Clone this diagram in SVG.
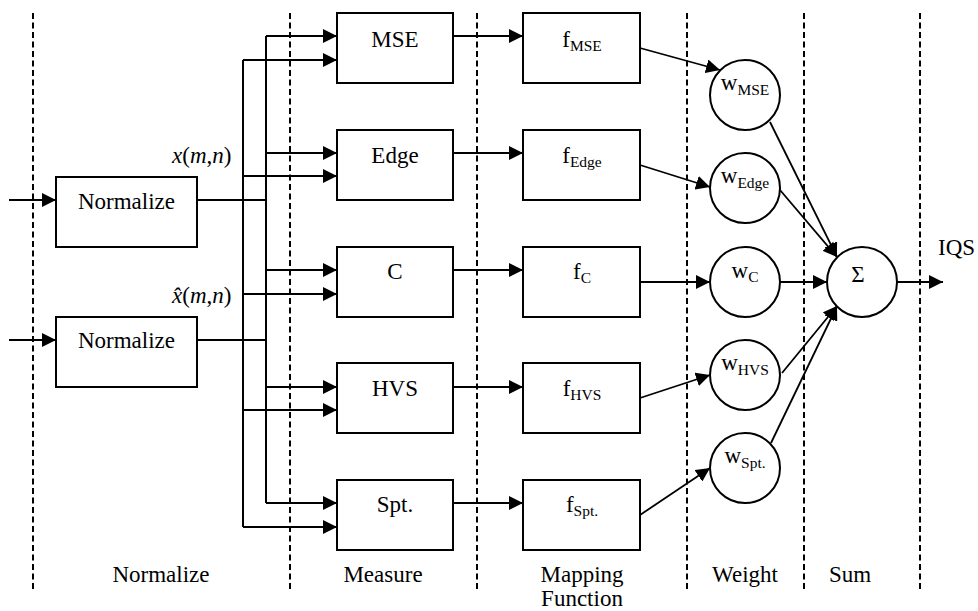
<svg xmlns="http://www.w3.org/2000/svg" width="978" height="611" viewBox="0 0 978 611">
  <style>
    .box { fill: #fff; stroke: #000; stroke-width: 2; }
    .node { fill: #fff; stroke: #000; stroke-width: 2; }
    .ln { fill: none; stroke: #000; stroke-width: 1.8; }
    .bus { fill: none; stroke: #000; stroke-width: 2; }
    .arr { fill: none; stroke: #000; stroke-width: 1.8; marker-end: url(#ah); }
    .div { stroke: #000; stroke-width: 2; stroke-dasharray: 6 3.5; }
  </style>
  <defs>
    <marker id="ah" markerUnits="userSpaceOnUse" markerWidth="15" markerHeight="14" refX="14" refY="7" orient="auto">
      <path d="M0,0 L14,7 L0,14 z" fill="#000"/>
    </marker>
  </defs>
  <rect width="978" height="611" fill="#fff"/>

  <!-- stage dividers -->
  <g id="dividers">
    <line class="div" x1="33" y1="13" x2="33" y2="592"/>
    <line class="div" x1="290" y1="13" x2="290" y2="592"/>
    <line class="div" x1="477" y1="13" x2="477" y2="592"/>
    <line class="div" x1="687" y1="13" x2="687" y2="592"/>
    <line class="div" x1="804" y1="13" x2="804" y2="592"/>
    <line class="div" x1="920" y1="13" x2="920" y2="592"/>
  </g>

  <!-- connectors -->
  <g id="connectors">
    <!-- inputs -->
    <path class="arr" d="M9,200 H56"/>
    <path class="arr" d="M9,340 H56"/>
    <!-- normalized outputs onto the buses -->
    <path class="ln" d="M197,200 H266"/>
    <path class="ln" d="M197,340 H266"/>
    <!-- distribution buses -->
    <path class="bus" d="M266,36 V503"/>
    <path class="bus" d="M243,60 V527"/>
    <!-- feeds into measure blocks -->
    <path class="arr" d="M266,36 H337"/>
    <path class="arr" d="M243,60 H337"/>
    <path class="arr" d="M266,153 H337"/>
    <path class="arr" d="M243,176 H337"/>
    <path class="arr" d="M266,270 H337"/>
    <path class="arr" d="M243,294 H337"/>
    <path class="arr" d="M266,387 H337"/>
    <path class="arr" d="M243,410 H337"/>
    <path class="arr" d="M266,503 H337"/>
    <path class="arr" d="M243,527 H337"/>
    <!-- measure to mapping -->
    <path class="arr" d="M453,36 H523"/>
    <path class="arr" d="M453,153 H523"/>
    <path class="arr" d="M453,270 H523"/>
    <path class="arr" d="M453,387 H523"/>
    <path class="arr" d="M453,503 H523"/>
    <!-- mapping to weights -->
    <path class="arr" d="M640,48 L720,70"/>
    <path class="arr" d="M640,165 L710,187"/>
    <path class="arr" d="M640,282 L710,282"/>
    <path class="arr" d="M640,398 L710,375"/>
    <path class="arr" d="M640,515 L710,468"/>
    <!-- weights to sum -->
    <path class="arr" d="M770,122 L837,257"/>
    <path class="arr" d="M780,190 L837,257"/>
    <path class="arr" d="M780,282 L827,282"/>
    <path class="arr" d="M782,373 L837,306"/>
    <path class="arr" d="M771,443 L837,306"/>
    <!-- output -->
    <path class="arr" d="M897,282 H943"/>
  </g>

  <!-- normalize blocks -->
  <g id="norm1">
    <rect class="box" x="56" y="177" width="141" height="70"/>
    <text font-family="Liberation Serif, DejaVu Serif, serif" font-size="23" text-anchor="middle" x="126.5" y="209">Normalize</text>
  </g>
  <g id="norm2">
    <rect class="box" x="56" y="317" width="141" height="70"/>
    <text font-family="Liberation Serif, DejaVu Serif, serif" font-size="23" text-anchor="middle" x="126.5" y="348">Normalize</text>
  </g>
  <g id="sig-x">
    <text font-family="Liberation Serif, DejaVu Serif, serif" font-size="23" font-style="italic" x="172" y="163">x<tspan font-style="normal">(</tspan>m<tspan font-style="normal">,</tspan>n<tspan font-style="normal">)</tspan></text>
  </g>
  <g id="sig-xhat">
    <text font-family="Liberation Serif, DejaVu Serif, serif" font-size="23" font-style="italic" x="172" y="303">x&#770;<tspan font-style="normal">(</tspan>m<tspan font-style="normal">,</tspan>n<tspan font-style="normal">)</tspan></text>
  </g>

  <!-- measure blocks -->
  <g id="m-mse">
    <rect class="box" x="337" y="13" width="116" height="70"/>
    <text font-family="Liberation Serif, DejaVu Serif, serif" font-size="23" text-anchor="middle" x="395" y="47">MSE</text>
  </g>
  <g id="m-edge">
    <rect class="box" x="337" y="130" width="116" height="70"/>
    <text font-family="Liberation Serif, DejaVu Serif, serif" font-size="23" text-anchor="middle" x="395" y="163">Edge</text>
  </g>
  <g id="m-c">
    <rect class="box" x="337" y="247" width="116" height="70"/>
    <text font-family="Liberation Serif, DejaVu Serif, serif" font-size="23" text-anchor="middle" x="395" y="279">C</text>
  </g>
  <g id="m-hvs">
    <rect class="box" x="337" y="363" width="116" height="70"/>
    <text font-family="Liberation Serif, DejaVu Serif, serif" font-size="23" text-anchor="middle" x="395" y="396">HVS</text>
  </g>
  <g id="m-spt">
    <rect class="box" x="337" y="480" width="116" height="70"/>
    <text font-family="Liberation Serif, DejaVu Serif, serif" font-size="23" text-anchor="middle" x="395" y="512">Spt.</text>
  </g>

  <!-- mapping functions -->
  <g id="f-mse">
    <rect class="box" x="523" y="13" width="117" height="70"/>
    <text font-family="Liberation Serif, DejaVu Serif, serif" font-size="23" text-anchor="middle" x="582" y="47">f<tspan font-size="15.5" dy="3.5">MSE</tspan></text>
  </g>
  <g id="f-edge">
    <rect class="box" x="523" y="130" width="117" height="70"/>
    <text font-family="Liberation Serif, DejaVu Serif, serif" font-size="23" text-anchor="middle" x="582" y="163">f<tspan font-size="15.5" dy="3.5">Edge</tspan></text>
  </g>
  <g id="f-c">
    <rect class="box" x="523" y="247" width="117" height="70"/>
    <text font-family="Liberation Serif, DejaVu Serif, serif" font-size="23" text-anchor="middle" x="582" y="279">f<tspan font-size="15.5" dy="3.5">C</tspan></text>
  </g>
  <g id="f-hvs">
    <rect class="box" x="523" y="363" width="117" height="70"/>
    <text font-family="Liberation Serif, DejaVu Serif, serif" font-size="23" text-anchor="middle" x="582" y="396">f<tspan font-size="15.5" dy="3.5">HVS</tspan></text>
  </g>
  <g id="f-spt">
    <rect class="box" x="523" y="480" width="117" height="70"/>
    <text font-family="Liberation Serif, DejaVu Serif, serif" font-size="23" text-anchor="middle" x="582" y="512">f<tspan font-size="15.5" dy="3.5">Spt.</tspan></text>
  </g>

  <!-- weights -->
  <g id="w-mse">
    <circle class="node" cx="745" cy="95" r="35"/>
    <text font-family="Liberation Serif, DejaVu Serif, serif" font-size="23" text-anchor="middle" x="745" y="90">w<tspan font-size="15.5" dy="5">MSE</tspan></text>
  </g>
  <g id="w-edge">
    <circle class="node" cx="745" cy="188" r="35"/>
    <text font-family="Liberation Serif, DejaVu Serif, serif" font-size="23" text-anchor="middle" x="745" y="183">w<tspan font-size="15.5" dy="5">Edge</tspan></text>
  </g>
  <g id="w-c">
    <circle class="node" cx="745" cy="282" r="35"/>
    <text font-family="Liberation Serif, DejaVu Serif, serif" font-size="23" text-anchor="middle" x="745" y="278">w<tspan font-size="15.5" dy="4">C</tspan></text>
  </g>
  <g id="w-hvs">
    <circle class="node" cx="745" cy="375" r="35"/>
    <text font-family="Liberation Serif, DejaVu Serif, serif" font-size="23" text-anchor="middle" x="745" y="370">w<tspan font-size="15.5" dy="5">HVS</tspan></text>
  </g>
  <g id="w-spt">
    <circle class="node" cx="745" cy="468" r="35"/>
    <text font-family="Liberation Serif, DejaVu Serif, serif" font-size="23" text-anchor="middle" x="745" y="463">w<tspan font-size="15.5" dy="5">Spt.</tspan></text>
  </g>

  <!-- summation -->
  <g id="sum">
    <circle class="node" cx="862" cy="282" r="35"/>
    <text font-family="Liberation Serif, DejaVu Serif, serif" font-size="23" text-anchor="middle" x="858" y="282">&#931;</text>
  </g>
  <g id="out">
    <text font-family="Liberation Serif, DejaVu Serif, serif" font-size="23" x="938" y="255">IQS</text>
  </g>

  <!-- stage captions -->
  <g id="captions">
    <text font-family="Liberation Serif, DejaVu Serif, serif" font-size="23" text-anchor="middle" x="161" y="582">Normalize</text>
    <text font-family="Liberation Serif, DejaVu Serif, serif" font-size="23" text-anchor="middle" x="383" y="582">Measure</text>
    <text font-family="Liberation Serif, DejaVu Serif, serif" font-size="23" text-anchor="middle" x="582" y="582">Mapping</text>
    <text font-family="Liberation Serif, DejaVu Serif, serif" font-size="23" text-anchor="middle" x="582" y="606">Function</text>
    <text font-family="Liberation Serif, DejaVu Serif, serif" font-size="23" text-anchor="middle" x="745" y="582">Weight</text>
    <text font-family="Liberation Serif, DejaVu Serif, serif" font-size="23" text-anchor="middle" x="850" y="582">Sum</text>
  </g>
</svg>
